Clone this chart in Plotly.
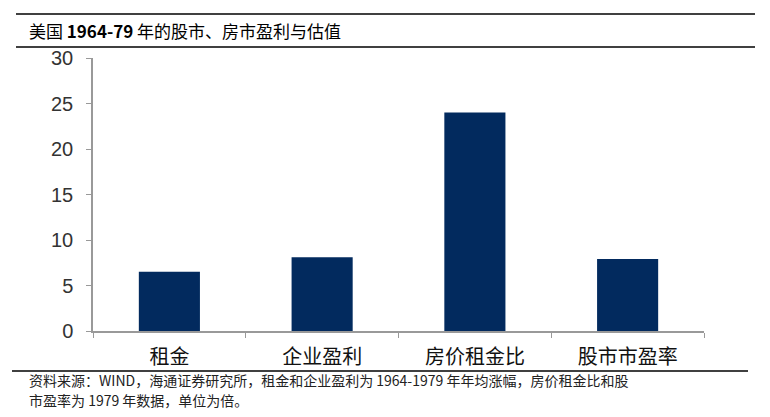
import plotly.graph_objects as go

categories = ["租金", "企业盈利", "房价租金比", "股市市盈率"]
values = [6.5, 8.1, 24.0, 7.9]
y_ticks = [0, 5, 10, 15, 20, 25, 30]

title_text = "美国 <b>1964-79</b> 年的股市、房市盈利与估值"
footer_line1 = "资料来源：WIND，海通证券研究所，租金和企业盈利为 1964-1979 年年均涨幅，房价租金比和股"
footer_line2 = "市盈率为 1979 年数据，单位为倍。"

W, H = 770, 417
ML, MR, MT, MB = 93, 66, 58, 86

def px(x):
    return (x - ML) / (W - ML - MR)

def py(y):
    return 1 - (y - MT) / (H - MT - MB)

fig = go.Figure(go.Bar(
    x=categories, y=values,
    marker=dict(color="#022A5E", line=dict(width=0)),
    width=0.4,
))

fig.update_layout(
    width=W, height=H,
    margin=dict(l=ML, r=MR, t=MT, b=MB),
    paper_bgcolor="white", plot_bgcolor="white",
    showlegend=False,
    font=dict(family="Liberation Sans, Arial, sans-serif", color="#333"),
    xaxis=dict(
        tickson="boundaries", ticks="outside", ticklen=5, tickcolor="#999",
        showline=True, linecolor="#999", linewidth=1.5,
        tickfont=dict(family="Noto Sans CJK SC", size=20, color="#111"),
        ticklabelstandoff=7,
        showgrid=False,
    ),
    yaxis=dict(
        range=[0, 30], tickvals=y_ticks, ticks="outside", ticklen=5, tickcolor="#999",
        showline=True, linecolor="#999", linewidth=1.5,
        tickfont=dict(family="Liberation Sans, Arial", size=20, color="#333"),
        ticklabelstandoff=9,
        showgrid=False, zeroline=False,
    ),
    shapes=[
        dict(type="line", xref="paper", yref="paper", x0=px(16), x1=px(755), y0=py(14), y1=py(14),
             line=dict(color="black", width=1.3)),
        dict(type="line", xref="paper", yref="paper", x0=px(16), x1=px(755), y0=py(47), y1=py(47),
             line=dict(color="black", width=1.3)),
        dict(type="line", xref="paper", yref="paper", x0=px(12), x1=px(748), y0=py(371), y1=py(371),
             line=dict(color="black", width=1.3)),
    ],
    annotations=[
        dict(text=title_text, xref="paper", yref="paper", x=px(27), y=py(31),
             xanchor="left", yanchor="middle", showarrow=False,
             font=dict(family="Noto Sans CJK SC", size=17, color="black")),
        dict(text=footer_line1, xref="paper", yref="paper", x=px(27), y=py(380),
             xanchor="left", yanchor="middle", showarrow=False,
             font=dict(family="Noto Sans CJK SC", size=14, color="#222")),
        dict(text=footer_line2, xref="paper", yref="paper", x=px(27), y=py(400),
             xanchor="left", yanchor="middle", showarrow=False,
             font=dict(family="Noto Sans CJK SC", size=14, color="#222")),
    ],
)

fig.write_html("out.html", config={"displayModeBar": False},
               post_script="document.body.style.margin='0';document.body.style.padding='0';")
